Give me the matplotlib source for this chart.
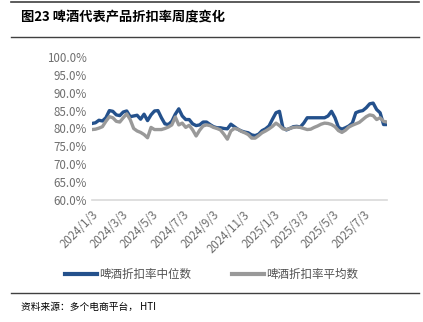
import matplotlib.pyplot as plt
from matplotlib.lines import Line2D
import pandas as pd

plt.rcParams['font.family'] = ['Noto Sans CJK SC', 'DejaVu Sans']

start_date = '2024-01-03'
median_rate = [
    81.4, 81.6, 82.3, 82.1, 83.0, 85.0, 84.8, 83.8, 83.6, 84.6,
    84.9, 83.3, 83.5, 83.7, 82.6, 84.0, 82.2, 83.8, 84.9, 85.0,
    83.0, 81.3, 81.1, 82.0, 84.0, 85.5, 83.5, 82.5, 82.5, 81.3,
    80.8, 81.0, 81.8, 81.8, 81.1, 80.5, 80.2, 80.2, 80.0, 79.9,
    81.2, 80.5, 79.8, 79.3, 79.0, 78.8, 78.2, 78.0, 78.4, 79.4,
    79.9, 80.7, 82.6, 84.4, 84.8, 80.2, 79.6, 80.0, 80.5, 80.6,
    80.4, 81.5, 83.0, 83.0, 83.0, 83.0, 83.0, 83.0, 83.5, 84.8,
    83.0, 80.3, 79.8, 80.2, 80.7, 81.5, 84.4, 84.8, 85.0, 85.8,
    86.9, 87.1, 85.3, 84.4, 81.1, 81.1,
]
mean_rate = [
    79.7, 79.8, 80.1, 80.5, 82.0, 83.3, 83.0, 82.0, 81.8, 83.0,
    84.1, 82.5, 80.0, 79.3, 78.9, 78.3, 77.4, 80.3, 79.7, 79.7,
    79.7, 80.0, 80.4, 81.0, 83.2, 81.0, 81.5, 80.3, 80.9, 79.6,
    77.9, 79.5, 80.7, 81.0, 80.8, 80.3, 80.0, 79.6, 78.4, 77.0,
    79.3, 80.0, 79.8, 79.2, 78.8, 78.3, 77.3, 77.3, 78.0, 78.8,
    79.3, 79.9, 80.6, 81.5, 80.8, 79.9, 79.7, 80.0, 80.3, 80.4,
    80.3, 80.0, 79.7, 79.8, 80.3, 80.7, 81.2, 81.5, 81.4, 81.1,
    80.5, 79.4, 78.9, 79.5, 80.4, 80.9, 81.3, 81.7, 82.5, 83.3,
    83.8, 83.6, 82.5, 83.0, 82.0, 81.8,
]
dates = pd.date_range(start_date, periods=len(median_rate), freq='7D')
tick_dates = pd.date_range('2024-01-01', '2025-07-01', freq='2MS') + pd.Timedelta(days=2)
y_ticks = [60, 65, 70, 75, 80, 85, 90, 95, 100]

blue = '#24518C'
gray = '#999999'

fig = plt.figure(figsize=(4.23, 3.22), dpi=100)
ax = fig.add_axes([0.2175, 0.379, 0.6975, 0.444])

ax.plot(dates, [v / 100 for v in median_rate], color=blue, lw=2.4)
ax.plot(dates, [v / 100 for v in mean_rate], color=gray, lw=2.4)

ax.set_xlim(dates[0], dates[-1])
ax.set_ylim(0.6, 1.0)
ax.set_yticks([t / 100 for t in y_ticks])
ax.set_yticklabels([f'{t:.1f}%' for t in y_ticks])
ax.set_xticks(tick_dates)
ax.set_xticklabels([f'{d.year}/{d.month}/{d.day}' for d in tick_dates],
                   rotation=45, ha='right', rotation_mode='anchor')

for s in ['top', 'right', 'left']:
    ax.spines[s].set_visible(False)
ax.spines['bottom'].set_color('#D9D9D9')
ax.spines['bottom'].set_linewidth(1.2)
ax.tick_params(axis='both', length=0, labelsize=8.3, colors='#6E6E6E', pad=4)
ax.tick_params(axis='x', pad=6)

handles = [Line2D([], [], color=blue, lw=3), Line2D([], [], color=gray, lw=3)]
fig.legend(handles, ['啤酒折扣率中位数', '啤酒折扣率平均数'], loc='center',
           bbox_to_anchor=(0.5, 0.147), ncol=2, frameon=False, fontsize=8.3,
           handlelength=2.8, handletextpad=0.2, columnspacing=3.5,
           labelcolor='#505050')

fig.add_artist(Line2D([0.025, 0.99], [0.994, 0.994], color='#404040', lw=1.2))
fig.add_artist(Line2D([0.025, 0.99], [0.885, 0.885], color='#404040', lw=1.0))
fig.add_artist(Line2D([0.025, 0.99], [0.09, 0.09], color='#404040', lw=1.0))
fig.text(0.05, 0.945, '图23 啤酒代表产品折扣率周度变化', fontsize=9.5,
         fontweight='bold', va='center', ha='left')
fig.text(0.05, 0.048, '资料来源：多个电商平台， HTI', fontsize=7,
         va='center', ha='left')

fig.savefig('out.png', dpi=100)
